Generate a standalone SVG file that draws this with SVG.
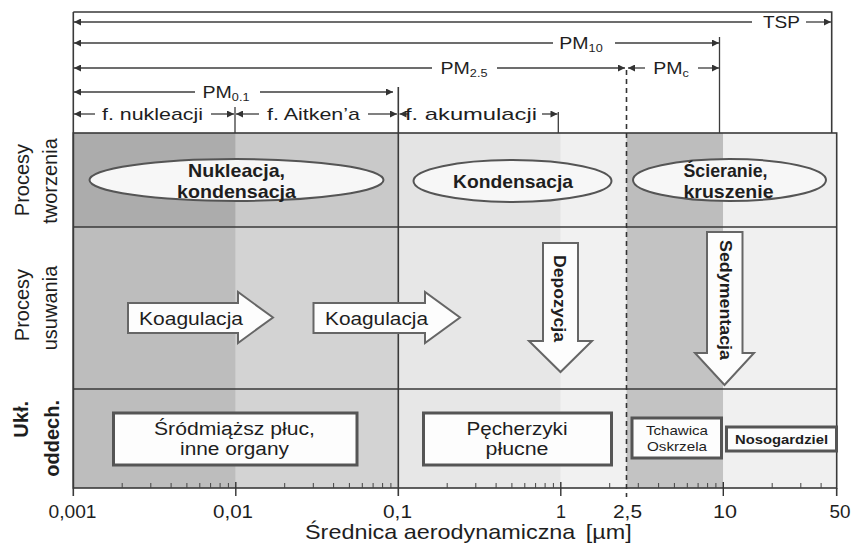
<svg xmlns="http://www.w3.org/2000/svg" width="853" height="548" viewBox="0 0 853 548">
<defs>
<marker id="ah" viewBox="0 0 10 10" refX="10" refY="5" markerWidth="8" markerHeight="7" markerUnits="userSpaceOnUse" orient="auto-start-reverse">
<path d="M0,0 L10,5 L0,10 Z" fill="#333"/>
</marker>
</defs>
<style>
.t{font-family:"Liberation Sans",Arial,Helvetica,sans-serif;fill:#1e1e1e}
.hd{font-size:17px}
.sub{font-size:11px}
.rl{font-size:20px}
.b{font-weight:bold}
.ln{stroke:#3c3c3c;stroke-width:1.3;fill:none}
.ar{stroke:#3c3c3c;stroke-width:1.3;fill:none}
.grid{stroke:#3a3a3a;stroke-width:1.6;fill:none}
.ell{fill:#f7f7f7;stroke:#555;stroke-width:2}
.blk{fill:#fdfdfd;stroke:#666;stroke-width:2}
.box{fill:#fdfdfd;stroke:#555;stroke-width:3}
.ax{font-size:18px}
</style>
<rect width="853" height="548" fill="#ffffff"/>

<!-- shading -->
<g id="shading">
<rect x="73.3" y="133" width="162.5" height="94" fill="#acacac"/>
<rect x="235.8" y="133" width="162.5" height="94" fill="#c9c9c9"/>
<rect x="398.3" y="133" width="162.5" height="94" fill="#e4e4e4"/>
<rect x="560.8" y="133" width="65.7" height="94" fill="#f0f0f0"/>
<rect x="626.5" y="133" width="96.8" height="94" fill="#bdbdbd"/>
<rect x="723.3" y="133" width="113.4" height="94" fill="#efefef"/>
<rect x="73.3" y="227" width="162.5" height="261" fill="#bdbdbd"/>
<rect x="235.8" y="227" width="162.5" height="261" fill="#d3d3d3"/>
<rect x="398.3" y="227" width="162.5" height="261" fill="#e7e7e7"/>
<rect x="560.8" y="227" width="65.7" height="261" fill="#f1f1f1"/>
<rect x="626.5" y="227" width="96.8" height="261" fill="#c3c3c3"/>
<rect x="723.3" y="227" width="113.4" height="261" fill="#f0f0f0"/>
</g>

<!-- frame, grid, axis -->
<g id="grid">
<path class="grid" d="M73.3,12 H831.7 V133"/>
<path class="grid" d="M73.3,12 V496"/>
<rect class="grid" x="73.3" y="133" width="763.4" height="355"/>
<path class="grid" d="M73.3,227 H836.7 M73.3,389 H836.7"/>
<path class="grid" d="M398.3,87 V496 M836.7,488 V496"/>
<path class="ln" d="M235,107 V133 M558.3,112 V133 M719.5,37 V133"/>
<path d="M626.5,70 V497" stroke="#333" stroke-width="1.6" stroke-dasharray="5,4" fill="none"/>
<path stroke="#444" stroke-width="1" fill="none" d="M122.2,483V488M150.8,483V488M171.1,483V488M186.9,483V488M199.8,483V488M210.6,483V488M220.1,483V488M228.4,483V488M284.7,483V488M313.3,483V488M333.6,483V488M349.4,483V488M362.3,483V488M373.1,483V488M382.6,483V488M390.9,483V488M447.2,483V488M475.8,483V488M496.1,483V488M511.9,483V488M524.8,483V488M535.6,483V488M545.1,483V488M553.4,483V488M609.7,483V488M638.3,483V488M658.6,483V488M674.4,483V488M687.3,483V488M698.1,483V488M707.6,483V488M715.9,483V488M772.2,483V488M800.8,483V488M821.1,483V488"/>
<path stroke="#333" stroke-width="1.4" fill="none" d="M235.8,482V496M560.8,482V496M723.3,482V496"/>
</g>

<!-- header dimension arrows -->
<g id="connectors">
<line class="ar" x1="74" y1="22" x2="752" y2="22" marker-start="url(#ah)"/>
<line class="ar" x1="806" y1="22" x2="831" y2="22" marker-end="url(#ah)"/>
<line class="ar" x1="74" y1="43" x2="553" y2="43" marker-start="url(#ah)"/>
<line class="ar" x1="615" y1="43" x2="719" y2="43" marker-end="url(#ah)"/>
<line class="ar" x1="74" y1="68" x2="432" y2="68" marker-start="url(#ah)"/>
<line class="ar" x1="497" y1="68" x2="625" y2="68" marker-end="url(#ah)"/>
<line class="ar" x1="628" y1="68" x2="645" y2="68" marker-start="url(#ah)"/>
<line class="ar" x1="698" y1="68" x2="719" y2="68" marker-end="url(#ah)"/>
<line class="ar" x1="74" y1="92" x2="195" y2="92" marker-start="url(#ah)"/>
<line class="ar" x1="260" y1="92" x2="393" y2="92" marker-end="url(#ah)"/>
<line class="ar" x1="74" y1="114" x2="95" y2="114" marker-start="url(#ah)"/>
<line class="ar" x1="211" y1="114" x2="234" y2="114" marker-end="url(#ah)"/>
<line class="ar" x1="236" y1="114" x2="259" y2="114" marker-start="url(#ah)"/>
<line class="ar" x1="368" y1="114" x2="397" y2="114" marker-end="url(#ah)"/>
<line class="ar" x1="399.5" y1="114" x2="409" y2="114" marker-start="url(#ah)"/>
<line class="ar" x1="542" y1="114" x2="557.5" y2="114" marker-end="url(#ah)"/>
</g>

<!-- header labels -->
<g id="header-labels">
<text class="t hd" x="781.5" y="28" text-anchor="middle" textLength="37" lengthAdjust="spacingAndGlyphs">TSP</text>
<text class="t hd" transform="translate(581,48.5) scale(1.15,1)" text-anchor="middle">PM<tspan class="sub" dy="3">10</tspan></text>
<text class="t hd" transform="translate(464,73.5) scale(1.15,1)" text-anchor="middle">PM<tspan class="sub" dy="3">2.5</tspan></text>
<text class="t hd" transform="translate(671,73.5) scale(1.15,1)" text-anchor="middle">PM<tspan class="sub" dy="3">c</tspan></text>
<text class="t hd" transform="translate(226,97.5) scale(1.15,1)" text-anchor="middle">PM<tspan class="sub" dy="3">0.1</tspan></text>
<text class="t hd" x="152.5" y="119.5" text-anchor="middle" textLength="101" lengthAdjust="spacingAndGlyphs">f. nukleacji</text>
<text class="t hd" x="313.5" y="119.5" text-anchor="middle" textLength="93" lengthAdjust="spacingAndGlyphs">f. Aitken’a</text>
<text class="t hd" x="471" y="119.5" text-anchor="middle" textLength="132" lengthAdjust="spacingAndGlyphs">f. akumulacji</text>
</g>

<!-- row labels -->
<g id="row-labels">
<text class="t rl" transform="translate(29,180) rotate(-90)" text-anchor="middle">Procesy</text>
<text class="t rl" transform="translate(56.5,181) rotate(-90)" text-anchor="middle">tworzenia</text>
<text class="t rl" transform="translate(29,305) rotate(-90)" text-anchor="middle">Procesy</text>
<text class="t rl" transform="translate(56.5,308) rotate(-90)" text-anchor="middle">usuwania</text>
<text class="t rl b" transform="translate(28,401) rotate(-90)" text-anchor="end" font-size="19">Ukł.</text>
<text class="t rl b" transform="translate(59,400) rotate(-90)" text-anchor="end" font-size="19">oddech.</text>
</g>

<!-- formation processes -->
<g id="nukleacja">
<ellipse class="ell" cx="236.5" cy="180" rx="147" ry="21"/>
<text class="t b" font-size="18.5" x="236.5" y="177" text-anchor="middle" textLength="97" lengthAdjust="spacingAndGlyphs">Nukleacja,</text>
<text class="t b" font-size="18.5" x="236.5" y="198" text-anchor="middle" textLength="119" lengthAdjust="spacingAndGlyphs">kondensacja</text>
</g>
<g id="kondensacja">
<ellipse class="ell" cx="512.5" cy="181" rx="99" ry="21"/>
<text class="t b" font-size="18.5" x="513" y="187.5" text-anchor="middle" textLength="120" lengthAdjust="spacingAndGlyphs">Kondensacja</text>
</g>
<g id="scieranie">
<ellipse class="ell" cx="729.5" cy="180" rx="96.5" ry="21"/>
<text class="t b" font-size="18.5" x="725.5" y="177" text-anchor="middle" textLength="84" lengthAdjust="spacingAndGlyphs">Ścieranie,</text>
<text class="t b" font-size="18.5" x="728.5" y="197.5" text-anchor="middle" textLength="90" lengthAdjust="spacingAndGlyphs">kruszenie</text>
</g>

<!-- removal processes -->
<g id="koagulacja1">
<path class="blk" d="M128,303 H238 V292 L273,317.5 L238,343 V333 H128 Z"/>
<text class="t" font-size="17.5" x="191" y="324.5" text-anchor="middle" textLength="104" lengthAdjust="spacingAndGlyphs">Koagulacja</text>
</g>
<g id="koagulacja2">
<path class="blk" d="M313.5,303 H425 V292 L460,317.5 L425,343 V333 H313.5 Z"/>
<text class="t" font-size="17.5" x="376.5" y="324.5" text-anchor="middle" textLength="103" lengthAdjust="spacingAndGlyphs">Koagulacja</text>
</g>
<g id="depozycja">
<path class="blk" d="M543,243 H578 V341 H592 L560.5,372 L529,341 H543 Z"/>
<text class="t b" font-size="17" transform="translate(554,298.5) rotate(90)" text-anchor="middle" textLength="87" lengthAdjust="spacingAndGlyphs">Depozycja</text>
</g>
<g id="sedymentacja">
<path class="blk" d="M707,232 H742.5 V353 H754 L724.5,385 L695,353 H707 Z"/>
<text class="t b" font-size="17" transform="translate(720,300) rotate(90)" text-anchor="middle" textLength="120" lengthAdjust="spacingAndGlyphs">Sedymentacja</text>
</g>

<!-- respiratory system -->
<g id="srodmiazsz">
<rect class="box" x="113.5" y="413" width="243.5" height="52"/>
<text class="t" font-size="18" x="234.5" y="435" text-anchor="middle" textLength="161" lengthAdjust="spacingAndGlyphs">Śródmiąższ płuc,</text>
<text class="t" font-size="18" x="234.5" y="455" text-anchor="middle" textLength="109" lengthAdjust="spacingAndGlyphs">inne organy</text>
</g>
<g id="pecherzyki">
<rect class="box" x="423.5" y="413" width="188" height="52"/>
<text class="t" font-size="18" x="517" y="435" text-anchor="middle" textLength="101" lengthAdjust="spacingAndGlyphs">Pęcherzyki</text>
<text class="t" font-size="18" x="517" y="455" text-anchor="middle" textLength="63" lengthAdjust="spacingAndGlyphs">płucne</text>
</g>
<g id="tchawica">
<rect class="box" x="632" y="418" width="89.5" height="40"/>
<text class="t" font-size="13" x="677" y="435" text-anchor="middle" textLength="62" lengthAdjust="spacingAndGlyphs">Tchawica</text>
<text class="t" font-size="13" x="677" y="451" text-anchor="middle" textLength="60" lengthAdjust="spacingAndGlyphs">Oskrzela</text>
</g>
<g id="nosogardziel">
<rect class="box" x="726.5" y="427" width="110" height="24"/>
<text class="t b" font-size="13" x="781.5" y="444" text-anchor="middle" textLength="93" lengthAdjust="spacingAndGlyphs">Nosogardziel</text>
</g>

<!-- axis labels -->
<g id="axis-labels">
<text class="t ax" x="72.5" y="518" text-anchor="middle" textLength="48" lengthAdjust="spacingAndGlyphs">0,001</text>
<text class="t ax" x="233" y="518" text-anchor="middle" textLength="40" lengthAdjust="spacingAndGlyphs">0,01</text>
<text class="t ax" x="397.5" y="518" text-anchor="middle" textLength="29" lengthAdjust="spacingAndGlyphs">0,1</text>
<text class="t ax" x="561" y="518" text-anchor="middle">1</text>
<text class="t ax" x="627.5" y="518" text-anchor="middle" textLength="29" lengthAdjust="spacingAndGlyphs">2,5</text>
<text class="t ax" x="725" y="518" text-anchor="middle" textLength="24" lengthAdjust="spacingAndGlyphs">10</text>
<text class="t ax" x="840" y="518" text-anchor="middle" textLength="21" lengthAdjust="spacingAndGlyphs">50</text>
<text class="t" font-size="20" transform="translate(305,539) scale(1.17,1)">Średnica aerodynamiczna<tspan dx="9">[µm]</tspan></text>
</g>
</svg>
